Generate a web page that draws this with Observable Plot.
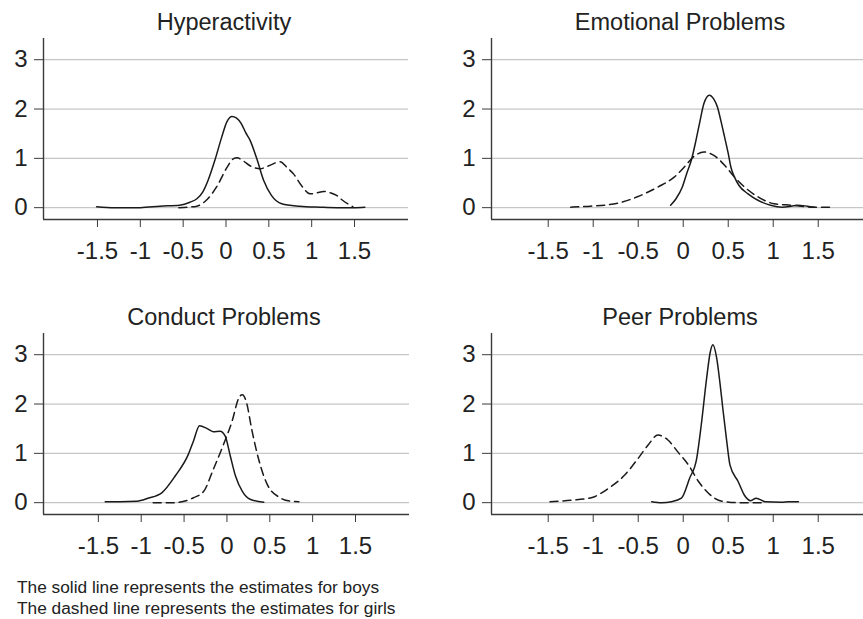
<!DOCTYPE html>
<html>
<head>
<meta charset="utf-8">
<script src="https://cdn.jsdelivr.net/npm/d3@7"></script>
<script src="https://cdn.jsdelivr.net/npm/@observablehq/plot@0.6"></script>
<style>
  html, body { margin: 0; padding: 0; background: #fff; }
  #wrap { position: relative; width: 863px; height: 619px; overflow: hidden; background: #fff;
          font-family: "Liberation Sans", Arial, Helvetica, sans-serif; color: #222; }
  .panel { position: absolute; }
  .title { position: absolute; width: 320px; text-align: center; font-size: 23.5px; line-height: 24px; white-space: nowrap; }
  .caption { position: absolute; left: 17px; top: 577px; font-size: 17.3px; line-height: 20.5px; white-space: nowrap; }
</style>
</head>
<body>
<div id="wrap"></div>
<script>
// ---- data (x = estimate, y = density) ----
const panelTitles = ["Hyperactivity", "Emotional Problems", "Conduct Problems", "Peer Problems"];
const xTickValues = [-1.5, -1, -0.5, 0, 0.5, 1, 1.5];
const yTickValues = [0, 1, 2, 3];
const captionLines = [
  "The solid line represents the estimates for boys",
  "The dashed line represents the estimates for girls"
];

const hyperBoys = [[-1.51,0.02],[-1.3,0.0],[-1.0,0.0],[-0.77,0.03],[-0.54,0.05],[-0.42,0.11],[-0.34,0.18],[-0.27,0.32],[-0.21,0.55],[-0.13,0.96],[-0.05,1.43],[0.01,1.74],[0.07,1.85],[0.12,1.82],[0.18,1.7],[0.23,1.52],[0.28,1.37],[0.36,0.99],[0.44,0.55],[0.53,0.25],[0.65,0.08],[0.86,0.03],[1.1,0.01],[1.3,0.0],[1.49,0.0],[1.62,0.01]];
const hyperGirls = [[-0.55,0.0],[-0.45,0.01],[-0.34,0.03],[-0.23,0.15],[-0.11,0.42],[0.01,0.81],[0.085,0.99],[0.13,1.01],[0.2,0.95],[0.28,0.85],[0.4,0.79],[0.5,0.85],[0.63,0.93],[0.72,0.8],[0.79,0.68],[0.88,0.45],[0.98,0.28],[1.06,0.3],[1.14,0.33],[1.22,0.3],[1.29,0.25],[1.36,0.15],[1.43,0.07],[1.48,0.02]];
const emoBoys = [[-0.14,0.05],[-0.08,0.18],[-0.01,0.42],[0.04,0.7],[0.09,0.96],[0.14,1.35],[0.18,1.7],[0.23,2.11],[0.29,2.28],[0.34,2.2],[0.38,2.04],[0.42,1.75],[0.46,1.43],[0.5,1.1],[0.53,0.82],[0.57,0.62],[0.62,0.45],[0.72,0.28],[0.83,0.15],[0.97,0.05],[1.1,0.01],[1.2,0.03],[1.27,0.05],[1.38,0.03],[1.46,0.01]];
const emoGirls = [[-1.25,0.01],[-1.03,0.03],[-0.73,0.09],[-0.51,0.22],[-0.28,0.42],[-0.1,0.62],[0.01,0.82],[0.12,1.04],[0.23,1.13],[0.34,1.06],[0.46,0.86],[0.57,0.62],[0.68,0.42],[0.83,0.22],[1.01,0.08],[1.2,0.05],[1.46,0.01],[1.64,0.01]];
const conductBoys = [[-1.42,0.02],[-1.25,0.02],[-1.05,0.03],[-0.92,0.09],[-0.76,0.2],[-0.6,0.55],[-0.45,0.98],[-0.39,1.25],[-0.32,1.56],[-0.23,1.5],[-0.16,1.44],[-0.08,1.45],[-0.02,1.35],[0.04,0.94],[0.1,0.54],[0.18,0.23],[0.27,0.07],[0.43,0.01]];
const conductGirls = [[-0.86,0.0],[-0.62,0.0],[-0.39,0.1],[-0.27,0.23],[-0.16,0.67],[-0.04,1.18],[0.06,1.65],[0.14,2.13],[0.18,2.19],[0.23,2.02],[0.29,1.48],[0.37,0.88],[0.47,0.37],[0.62,0.1],[0.74,0.03],[0.84,0.02]];
const peerBoys = [[-0.35,0.02],[-0.24,0.0],[-0.13,0.02],[-0.02,0.09],[0.07,0.49],[0.15,0.9],[0.2,1.57],[0.26,2.52],[0.3,3.05],[0.33,3.2],[0.37,2.95],[0.41,2.4],[0.44,1.91],[0.48,1.3],[0.52,0.76],[0.61,0.43],[0.68,0.15],[0.75,0.04],[0.81,0.09],[0.91,0.02],[1.09,0.01],[1.17,0.02],[1.28,0.02]];
const peerGirls = [[-1.48,0.02],[-1.24,0.05],[-1.02,0.1],[-0.83,0.29],[-0.65,0.56],[-0.5,0.9],[-0.39,1.17],[-0.28,1.37],[-0.17,1.27],[-0.06,1.03],[0.06,0.76],[0.17,0.43],[0.28,0.19],[0.43,0.03],[0.61,0.0],[0.9,0.0]];

// ---- layout ----
const panels = [
  {title: panelTitles[0], boys: hyperBoys,   girls: hyperGirls,   left: 0,   top: 0,   width: 430, mLeft: 43, mRight: 22, xDomain: [-2.13, 2.13], titleX: 224},
  {title: panelTitles[1], boys: emoBoys,     girls: emoGirls,     left: 430, top: 0,   width: 433, mLeft: 61, mRight: 0,  xDomain: [-2.13, 2.003], titleX: 250},
  {title: panelTitles[2], boys: conductBoys, girls: conductGirls, left: 0,   top: 295, width: 430, mLeft: 43, mRight: 21, xDomain: [-2.14, 2.13], titleX: 224},
  {title: panelTitles[3], boys: peerBoys,    girls: peerGirls,    left: 430, top: 295, width: 433, mLeft: 61, mRight: 0,  xDomain: [-2.13, 2.003], titleX: 250}
];
const yDomain = [-0.24, 3.43];

const wrap = document.getElementById("wrap");
const toRows = arr => arr.map(([x, y]) => ({x, y}));

for (const p of panels) {
  const chart = Plot.plot({
    width: p.width,
    height: 290,
    marginLeft: p.mLeft,
    marginRight: p.mRight,
    marginTop: 38,
    marginBottom: 71,
    style: {fontFamily: '"Liberation Sans", Arial, Helvetica, sans-serif', fontSize: "24px", color: "#222", background: "transparent", overflow: "visible"},
    x: {domain: p.xDomain},
    y: {domain: yDomain},
    marks: [
      Plot.gridY({ticks: yTickValues, stroke: "#c6c6c6", strokeOpacity: 1, strokeWidth: 1.2}),
      Plot.ruleX([p.xDomain[0]], {stroke: "#3a3a3a", strokeWidth: 1.4}),
      Plot.ruleY([yDomain[0]], {stroke: "#3a3a3a", strokeWidth: 1.4}),
      Plot.axisX({ticks: xTickValues, tickSize: 8, tickPadding: 14, tickFormat: d => String(d), label: null, fontSize: 24, stroke: "#3a3a3a", fill: "#222"}),
      Plot.axisY({ticks: yTickValues, tickSize: 9, tickPadding: 7, tickFormat: d => String(d), label: null, fontSize: 24, stroke: "#3a3a3a", fill: "#222"}),
      Plot.line(toRows(p.girls), {x: "x", y: "y", stroke: "#1a1a1a", strokeWidth: 1.5, strokeDasharray: "8,5", curve: "monotone-x"}),
      Plot.line(toRows(p.boys), {x: "x", y: "y", stroke: "#1a1a1a", strokeWidth: 1.5, curve: "monotone-x"})
    ]
  });
  chart.classList.add("panel");
  chart.style.left = p.left + "px";
  chart.style.top = p.top + "px";
  wrap.appendChild(chart);

  const t = document.createElement("div");
  t.className = "title";
  t.textContent = p.title;
  t.style.left = (p.left + p.titleX - 160) + "px";
  t.style.top = (p.top + 10) + "px";
  wrap.appendChild(t);
}

const cap = document.createElement("div");
cap.className = "caption";
cap.innerHTML = captionLines.map(s => `<div>${s}</div>`).join("");
wrap.appendChild(cap);
</script>
</body>
</html>
